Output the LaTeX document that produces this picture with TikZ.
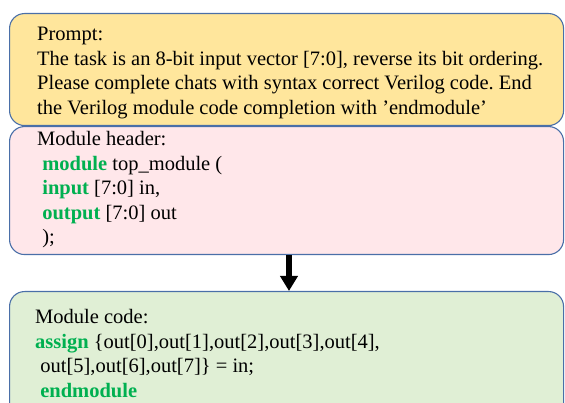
\documentclass[tikz,border=0pt]{standalone}
\usepackage{fontspec}
\setmainfont{Liberation Serif}
\usepackage{xcolor}
\usetikzlibrary{positioning, arrows.meta}

\definecolor{boxline}{HTML}{4A6FA8}
\definecolor{promptfill}{HTML}{FFE69C}
\definecolor{headerfill}{HTML}{FFE7EA}
\definecolor{codefill}{HTML}{E0EFD5}
\definecolor{keyword}{HTML}{00B050}
\newcommand{\kw}[1]{\textcolor{keyword}{\textbf{#1}}}
\frenchspacing

\begin{document}
\begin{tikzpicture}[x=1pt, y=-1pt,
    panel/.style={draw=boxline, line width=1.1pt, rounded corners=15pt, minimum width=554pt, inner sep=0pt},
    body/.style={anchor=north west, align=left, inner sep=0pt, font=\fontsize{20.5}{24.6}\selectfont}]
					\useasboundingbox (0,0) rectangle (565,403);
					\clip (0,0) rectangle (565,403);
					
					\node [panel, fill=promptfill, minimum height=112pt, anchor=north west] (prompt) at (9,13) {};
					\node [panel, fill=headerfill, minimum height=128pt, anchor=north west] (header) at (9,126) {};
					\node [panel, fill=codefill, minimum height=160pt, anchor=north west] (code) at (9,291) {};
					
					\node [body] (prompttext) at (37,27) {Prompt:\\The task is an 8-bit input vector [7:0], reverse its bit ordering.\\Please complete chats with syntax correct Verilog code. End\\the Verilog module code completion with ’endmodule’};
					\node [body] (headertext) at (37,131) {Module header:\\\ \kw{module} top\_module (\\\ \kw{input} [7:0] in,\\\ \kw{output} [7:0] out\\\ );};
					\node [body] (codetext) at (35,309) {Module code:\\\kw{assign} \{out[0],out[1],out[2],out[3],out[4],\\\ out[5],out[6],out[7]\} = in;\\\ \kw{endmodule}};
					
					\draw [line width=6pt, -{Triangle[width=17pt, length=15pt]}] (header.south -| 289,0) -- (code.north -| 289,0);
\end{tikzpicture}
\end{document}
